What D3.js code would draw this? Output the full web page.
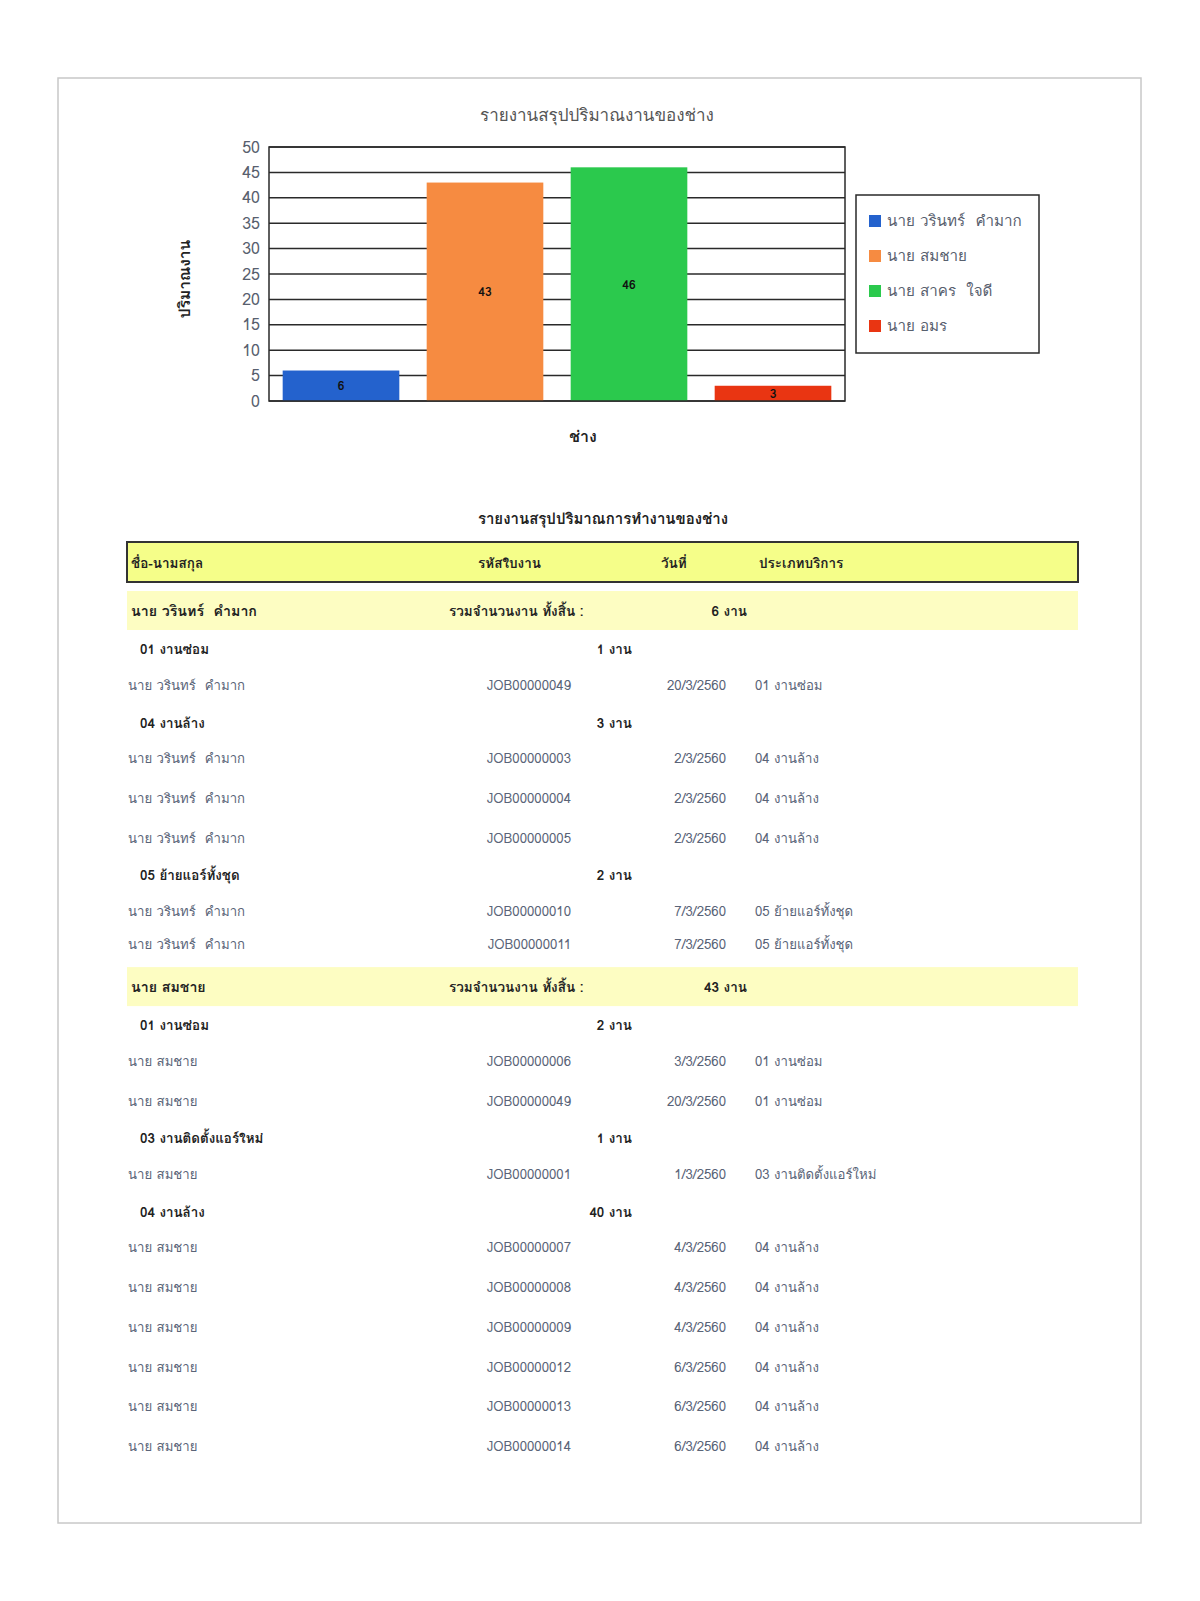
<!DOCTYPE html>
<html>
<head>
<meta charset="utf-8">
<script src="https://cdn.jsdelivr.net/npm/d3@7/dist/d3.min.js"></script>
<style>
body { margin: 0; background: #fff; }
svg text { font-family: Tahoma, Loma, Garuda, "Noto Sans Thai Looped", "Noto Sans Thai", "Noto Sans", sans-serif; white-space: pre; }
</style>
<script>
// chart data
var technicians = ["นาย วรินทร์  คำมาก", "นาย สมชาย", "นาย สาคร  ใจดี", "นาย อมร"];
var jobCounts = [6, 43, 46, 3];
var barColors = ["#2462cd", "#f68b41", "#2bc94d", "#e93512"];
var yTicks = [0, 5, 10, 15, 20, 25, 30, 35, 40, 45, 50];

// table data
var tableHeaders = ["ชื่อ-นามสกุล", "รหัสใบงาน", "วันที่", "ประเภทบริการ"];
var groupNames = ["นาย วรินทร์  คำมาก", "นาย สมชาย"];
var groupTotals = [6, 43];
// [group index, service, count]
var serviceGroups = [
	[0, "01 งานซ่อม", 1],
	[0, "04 งานล้าง", 3],
	[0, "05 ย้ายแอร์ทั้งชุด", 2],
	[1, "01 งานซ่อม", 2],
	[1, "03 งานติดตั้งแอร์ใหม่", 1],
	[1, "04 งานล้าง", 40]
];
// [service group index, job code, date]
var jobs = [
	[0, "JOB00000049", "20/3/2560"],
	[1, "JOB00000003", "2/3/2560"],
	[1, "JOB00000004", "2/3/2560"],
	[1, "JOB00000005", "2/3/2560"],
	[2, "JOB00000010", "7/3/2560"],
	[2, "JOB00000011", "7/3/2560"],
	[3, "JOB00000006", "3/3/2560"],
	[3, "JOB00000049", "20/3/2560"],
	[4, "JOB00000001", "1/3/2560"],
	[5, "JOB00000007", "4/3/2560"],
	[5, "JOB00000008", "4/3/2560"],
	[5, "JOB00000009", "4/3/2560"],
	[5, "JOB00000012", "6/3/2560"],
	[5, "JOB00000013", "6/3/2560"],
	[5, "JOB00000014", "6/3/2560"]
];
</script>
</head>
<body>
<div id="viz"></div>
<script>
var W = 1200, H = 1601;
var FONT = "Tahoma, Loma, Garuda, 'Noto Sans Thai Looped', 'Noto Sans Thai', 'Noto Sans', sans-serif";
var svg = d3.select("#viz").append("svg")
	.attr("width", W)
	.attr("height", H);

// page frame
svg.append("rect")
	.attr("x", 58).attr("y", 78)
	.attr("width", 1083).attr("height", 1445)
	.attr("fill", "none")
	.attr("stroke", "#c8c8c8")
	.attr("stroke-width", 1.5);

// ---- bar chart ----
var plot = {left: 269, right: 845, top: 147, bottom: 401};

var x = d3.scaleBand()
	.domain(technicians)
	.range([plot.left, plot.right])
	.paddingInner(0.19)
	.paddingOuter(0.095);

var y = d3.scaleLinear()
	.domain([0, 50])
	.range([plot.bottom, plot.top]);

svg.append("text")
	.attr("x", 597).attr("y", 114)
	.attr("text-anchor", "middle")
	.attr("dominant-baseline", "central")
	.attr("font-size", 17)
	.attr("fill", "#555")
	.text("รายงานสรุปปริมาณงานของช่าง");

// grid lines
svg.append("g")
	.selectAll("line")
	.data(yTicks)
	.enter().append("line")
	.attr("x1", plot.left).attr("x2", plot.right)
	.attr("y1", function(d){ return y(d); })
	.attr("y2", function(d){ return y(d); })
	.attr("stroke", "#2a2a2a")
	.attr("stroke-width", 1.5);

// y axis labels
var yAxis = d3.axisLeft(y).tickValues(yTicks).tickSize(0).tickPadding(9);
var gy = svg.append("g")
	.attr("transform", "translate(" + plot.left + ",0)")
	.call(yAxis);
gy.select(".domain").remove();
gy.selectAll("text")
	.attr("font-size", 16)
	.attr("fill", "#58606e")
	.style("font-family", FONT);

// bars
var idx = d3.range(technicians.length);
svg.append("g")
	.selectAll("rect")
	.data(idx)
	.enter().append("rect")
	.attr("x", function(i){ return x(technicians[i]); })
	.attr("y", function(i){ return y(jobCounts[i]); })
	.attr("width", x.bandwidth())
	.attr("height", function(i){ return y(0) - y(jobCounts[i]); })
	.attr("fill", function(i){ return barColors[i]; });

// plot frame
svg.append("rect")
	.attr("x", plot.left).attr("y", plot.top)
	.attr("width", plot.right - plot.left)
	.attr("height", plot.bottom - plot.top)
	.attr("fill", "none")
	.attr("stroke", "#2a2a2a")
	.attr("stroke-width", 1.5);

// value labels
svg.append("g")
	.selectAll("text")
	.data(idx)
	.enter().append("text")
	.attr("x", function(i){ return x(technicians[i]) + x.bandwidth() / 2; })
	.attr("y", function(i){ return (y(jobCounts[i]) + y(0)) / 2; })
	.attr("text-anchor", "middle")
	.attr("dominant-baseline", "central")
	.attr("font-size", 12)
	.attr("font-weight", "bold")
	.attr("fill", "#111")
	.text(function(i){ return jobCounts[i]; });

// axis titles
svg.append("text")
	.attr("transform", "translate(184,279) rotate(-90)")
	.attr("text-anchor", "middle")
	.attr("dominant-baseline", "central")
	.attr("font-size", 15.5)
	.attr("font-weight", "bold")
	.attr("fill", "#222")
	.text("ปริมาณงาน");

svg.append("text")
	.attr("x", 583).attr("y", 436)
	.attr("text-anchor", "middle")
	.attr("dominant-baseline", "central")
	.attr("font-size", 16)
	.attr("font-weight", "bold")
	.attr("fill", "#222")
	.text("ช่าง");

// legend
svg.append("rect")
	.attr("x", 856).attr("y", 195)
	.attr("width", 183).attr("height", 158)
	.attr("fill", "#fff")
	.attr("stroke", "#2a2a2a")
	.attr("stroke-width", 1.5);

var leg = svg.append("g").selectAll("g")
	.data(idx)
	.enter().append("g")
	.attr("transform", function(i){ return "translate(869," + (221 + i * 35) + ")"; });
leg.append("rect")
	.attr("x", 0).attr("y", -6)
	.attr("width", 12).attr("height", 12)
	.attr("fill", function(i){ return barColors[i]; });
leg.append("text")
	.attr("x", 18).attr("y", 0)
	.attr("dominant-baseline", "central")
	.attr("font-size", 15.2)
	.attr("fill", "#58606e")
	.text(function(i){ return technicians[i]; });

// ---- summary table ----
svg.append("text")
	.attr("x", 603).attr("y", 519)
	.attr("text-anchor", "middle")
	.attr("dominant-baseline", "central")
	.attr("font-size", 15)
	.attr("font-weight", "bold")
	.attr("fill", "#222")
	.text("รายงานสรุปปริมาณการทำงานของช่าง");

var tbl = {left: 127, right: 1078};
var colX = [131, 478, 661, 759];

svg.append("rect")
	.attr("x", tbl.left).attr("y", 542)
	.attr("width", tbl.right - tbl.left).attr("height", 40)
	.attr("fill", "#f5fe89")
	.attr("stroke", "#333")
	.attr("stroke-width", 2);

svg.append("g").selectAll("text")
	.data(tableHeaders)
	.enter().append("text")
	.attr("x", function(d, i){ return colX[i]; })
	.attr("y", 563)
	.attr("dominant-baseline", "central")
	.attr("font-size", 13.5)
	.attr("font-weight", "bold")
	.attr("fill", "#222")
	.text(function(d){ return d; });

// flatten groups into rows
var rows = [];
groupNames.forEach(function(name, g){
	rows.push({type: "group", name: name, total: groupTotals[g]});
	serviceGroups.forEach(function(sg, s){
		if (sg[0] != g) return;
		rows.push({type: "sub", service: sg[1], count: sg[2]});
		jobs.forEach(function(j){
			if (j[0] != s) return;
			rows.push({type: "detail", name: name, code: j[1], date: j[2], service: sg[1]});
		});
	});
});

// vertical position of each row centre
var gap = {
	"group>sub": 38.7, "sub>detail": 35.8, "detail>detail": 39.7,
	"detail>sub": 37.5, "detail>group": 42.9
};
var cy = 611;
rows.forEach(function(r, i){
	if (i > 0) {
		var prev = rows[i - 1];
		var next = rows[i + 1];
		var g = gap[prev.type + ">" + r.type];
		if (prev.type == "detail" && r.type == "detail" && next && next.type == "group") g = 32.7;
		cy += g;
	}
	r.y = cy;
});

var rowG = svg.append("g").selectAll("g")
	.data(rows)
	.enter().append("g")
	.attr("transform", function(r){ return "translate(0," + r.y + ")"; });

rowG.filter(function(r){ return r.type == "group"; })
	.each(function(r){
		var g = d3.select(this);
		g.append("rect")
			.attr("x", tbl.left).attr("y", -20)
			.attr("width", tbl.right - tbl.left).attr("height", 39)
			.attr("fill", "#fdfdc2");
		g.append("text").attr("x", 131).attr("font-size", 14.2).text(r.name);
		g.append("text").attr("x", 449).attr("font-size", 13.5).text("รวมจำนวนงาน ทั้งสิ้น :");
		g.append("text").attr("x", 747).attr("font-size", 13.5)
			.attr("text-anchor", "end").text(r.total + " งาน");
		g.selectAll("text")
			.attr("dominant-baseline", "central")
			.attr("font-weight", "bold")
			.attr("fill", "#222");
	});

rowG.filter(function(r){ return r.type == "sub"; })
	.each(function(r){
		var g = d3.select(this);
		g.append("text").attr("x", 140).text(r.service);
		g.append("text").attr("x", 632).attr("text-anchor", "end").text(r.count + " งาน");
		g.selectAll("text")
			.attr("dominant-baseline", "central")
			.attr("font-size", 13.4)
			.attr("font-weight", "bold")
			.attr("fill", "#222");
	});

rowG.filter(function(r){ return r.type == "detail"; })
	.each(function(r){
		var g = d3.select(this);
		g.append("text").attr("x", 128).text(r.name);
		g.append("text").attr("x", 571).attr("text-anchor", "end").text(r.code);
		g.append("text").attr("x", 726).attr("text-anchor", "end").text(r.date);
		g.append("text").attr("x", 755).text(r.service);
		g.selectAll("text")
			.attr("dominant-baseline", "central")
			.attr("font-size", 13.2)
			.attr("fill", "#5a6478");
	});
</script>
</body>
</html>
